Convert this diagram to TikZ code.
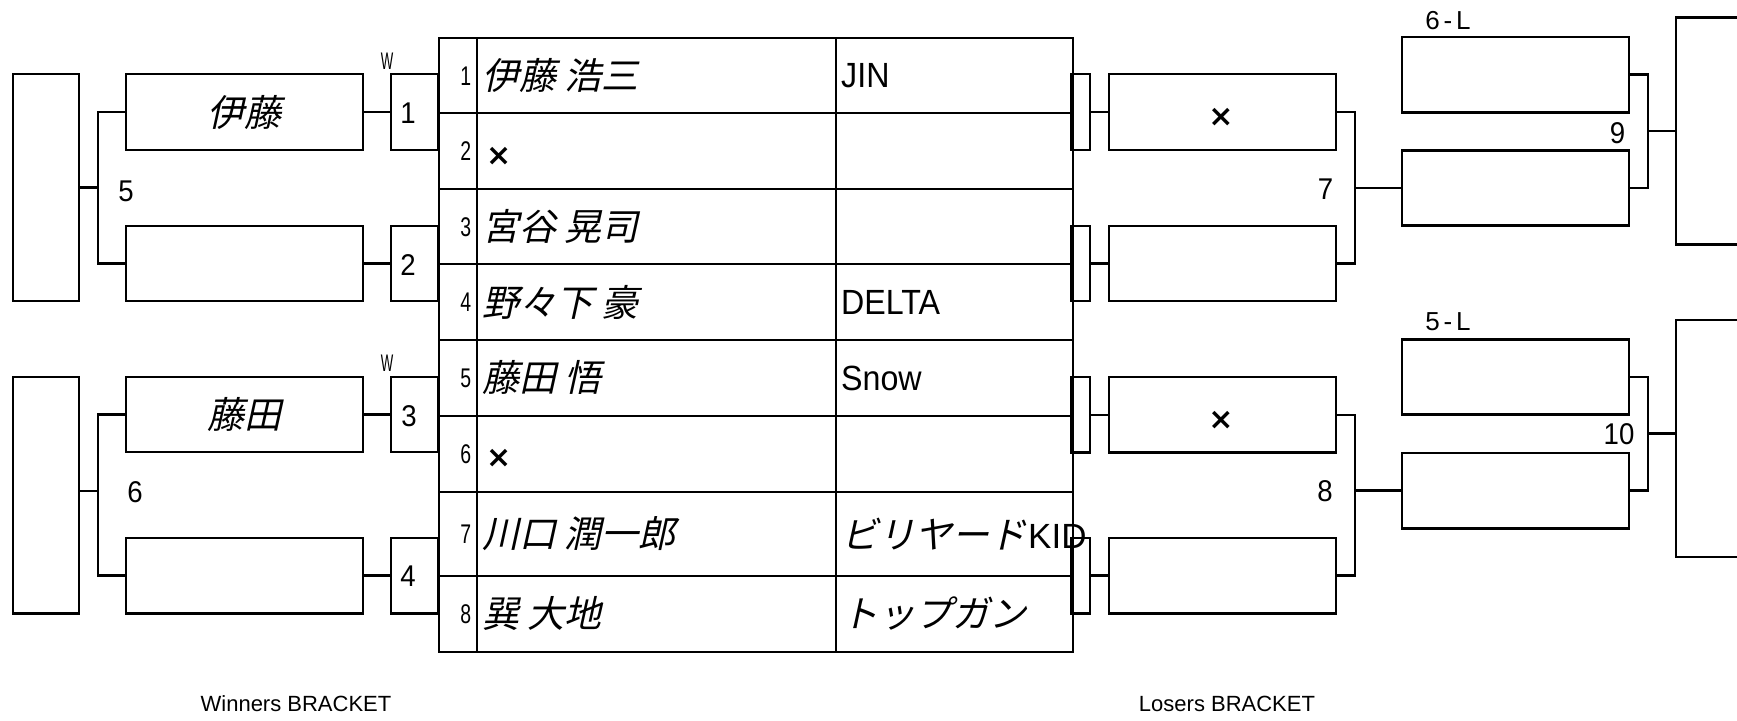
\documentclass[tikz,border=0pt]{standalone}
\usepackage{fontspec}
\setmainfont{Liberation Sans}
\newfontfamily\jpit[FakeSlant=0.22]{Noto Sans CJK JP}
\newfontfamily\latn[FakeStretch=0.92]{Liberation Sans}
\newfontfamily\narw[FakeStretch=0.72]{Liberation Sans}
\newfontfamily\wnarw[FakeStretch=0.55]{Liberation Sans}
\newfontfamily\symf{DejaVu Sans}
\newfontfamily\spcd[LetterSpace=15]{Liberation Sans}
\newcommand{\myfs}[1]{\fontsize{#1}{#1}\selectfont}
\begin{document}
\begin{tikzpicture}[x=1pt,y=-1pt,
  ln/.style={line width=2.4pt},
  bx/.style={draw, line width=2.4pt, inner sep=0pt},
  cell/.style={draw, line width=2.4pt, inner sep=0pt, anchor=north west},
  num/.style={font=\latn\myfs{30}, inner sep=0pt},
  nm/.style={font=\jpit\myfs{37}, inner sep=0pt, anchor=west, xshift=6pt},
  tmt/.style={inner sep=0pt, anchor=west, xshift=6pt},
  xm/.style={font=\symf\bfseries\myfs{30}, inner sep=0pt}]
\useasboundingbox (0,0) rectangle (1737,720);

% ---------- Winners bracket ----------
\node[bx, minimum width=66pt, minimum height=227pt] (LW1) at (46,187.5) {};
\node[bx, minimum width=66pt, minimum height=236.6pt] (LW2) at (46,495) {};

\node[bx, minimum width=237pt, minimum height=76pt] (WA) at (244.5,112) {\jpit\myfs{37}伊藤};
\node[bx, minimum width=237pt, minimum height=75.5pt] (WB) at (244.5,263.5) {};
\node[bx, minimum width=237pt, minimum height=75.5pt] (WC) at (244.5,414.5) {\jpit\myfs{37}藤田};
\node[bx, minimum width=237pt, minimum height=75.6pt] (WD) at (244.5,575.5) {};

\node[bx, minimum width=46.7pt, minimum height=76pt] (M1) at (414.35,112) {};
\node[bx, minimum width=46.7pt, minimum height=75.5pt] (M2) at (414.35,263.5) {};
\node[bx, minimum width=46.7pt, minimum height=75.5pt] (M3) at (414.35,414.5) {};
\node[bx, minimum width=46.7pt, minimum height=75.6pt] (M4) at (414.35,575.5) {};
\node[num] (m1t) at (408,113) {1};
\node[num] (m2t) at (408,265) {2};
\node[num] (m3t) at (409,416) {3};
\node[num] (m4t) at (408,576) {4};
\node[font=\wnarw\myfs{24}, inner sep=0pt] (w1) at (387,61) {W};
\node[font=\wnarw\myfs{24}, inner sep=0pt] (w2) at (387,363) {W};

\coordinate (j5) at (98,187.5);
\coordinate (j6) at (98,491);
\draw[ln] (WA.west) -| (j5) |- (WB.west);
\draw[ln] (j5) -- (j5 -| LW1.east);
\draw[ln] (WC.west) -| (j6) |- (WD.west);
\draw[ln] (j6) -- (j6 -| LW2.east);
\draw[ln] (WA.east) -- (M1.west);
\draw[ln] (WB.east) -- (M2.west);
\draw[ln] (WC.east) -- (M3.west);
\draw[ln] (WD.east) -- (M4.west);
\node[num] (l5) at (126,191) {5};
\node[num] (l6) at (135,492) {6};

% ---------- Table ----------
\foreach \i/\t/\h in {1/36.5/75.5, 2/112/75.5, 3/187.5/75.5, 4/263/76,
                      5/339/75.5, 6/414.5/76, 7/490.5/84.5, 8/575/75.5} {
  \node[cell, minimum width=38.3pt, minimum height=\h pt] (num\i) at (437.7,\t) {};
  \node[cell, minimum width=359pt, minimum height=\h pt] (nm\i) at (476,\t) {};
  \node[cell, minimum width=236.5pt, minimum height=\h pt] (tm\i) at (835,\t) {};
  \node[anchor=east, xshift=-7pt, yshift=-0.5pt, inner sep=0pt, font=\narw\myfs{27}] (nt\i) at (num\i.east) {\i};
}
\node[nm] (n1) at (nm1.west) {伊藤 浩三};
\node[xm, anchor=west, xshift=10pt, yshift=-5pt] (n2) at (nm2.west) {×};
\node[nm] (n3) at (nm3.west) {宮谷 晃司};
\node[nm] (n4) at (nm4.west) {野々下 豪};
\node[nm] (n5) at (nm5.west) {藤田 悟};
\node[xm, anchor=west, xshift=10pt, yshift=-5pt] (n6) at (nm6.west) {×};
\node[nm] (n7) at (nm7.west) {川口 潤一郎};
\node[nm] (n8) at (nm8.west) {巽 大地};

\node[tmt, font=\latn\myfs{35}] (t1) at (tm1.west) {JIN};
\node[tmt, font=\latn\myfs{35}] (t4) at (tm4.west) {DELTA};
\node[tmt, font=\latn\myfs{35}] (t5) at (tm5.west) {Snow};
\node[tmt] (t7) at (tm7.west) {{\jpit\myfs{37}ビリヤード}\kern2pt{\myfs{35}KID}};
\node[tmt, font=\jpit\myfs{37}] (t8) at (tm8.west) {トップガン};

% ---------- Losers bracket ----------
\node[bx, minimum width=18.5pt, minimum height=76pt] (R1) at (1080.75,112) {};
\node[bx, minimum width=18.5pt, minimum height=75.5pt] (R2) at (1080.75,263.5) {};
\node[bx, minimum width=18.5pt, minimum height=75.5pt] (R3) at (1080.75,414.75) {};
\node[bx, minimum width=18.5pt, minimum height=75.6pt] (R4) at (1080.75,575.5) {};

\node[bx, minimum width=227pt, minimum height=76pt] (LA) at (1222.5,112) {};
\node[bx, minimum width=227pt, minimum height=75.5pt] (LB) at (1222.5,263.5) {};
\node[bx, minimum width=227pt, minimum height=75.5pt] (LC) at (1222.5,414.75) {};
\node[bx, minimum width=227pt, minimum height=75.6pt] (LD) at (1222.5,575.5) {};
\node[xm] (xa) at (1221,117) {×};
\node[xm] (xc) at (1221,420) {×};

\draw[ln] (R1.east) -- (LA.west);
\draw[ln] (R2.east) -- (LB.west);
\draw[ln] (R3.east) -- (LC.west);
\draw[ln] (R4.east) -- (LD.west);

\node[bx, minimum width=227pt, minimum height=75.6pt] (LE) at (1515.5,74.5) {};
\node[bx, minimum width=227pt, minimum height=75pt] (LF) at (1515.5,188) {};
\node[bx, minimum width=227pt, minimum height=75pt] (LG) at (1515.5,376.8) {};
\node[bx, minimum width=227pt, minimum height=75.6pt] (LH) at (1515.5,490.5) {};

\coordinate (j7) at (1355,187.75);
\coordinate (j8) at (1355,490.5);
\coordinate (j9) at (1648,131.25);
\coordinate (j10) at (1648,433.65);

\draw[ln] (LA.east) -| (j7) |- (LB.east);
\draw[ln] (j7) -- (j7 -| LF.west);
\draw[ln] (LC.east) -| (j8) |- (LD.east);
\draw[ln] (j8) -- (j8 -| LH.west);

\node[bx, minimum width=150pt, minimum height=227pt] (RB1) at (1751,130.8) {};
\node[bx, minimum width=150pt, minimum height=236.7pt] (RB2) at (1751,438.35) {};
\draw[ln] (LE.east) -| (j9) |- (LF.east);
\draw[ln] (j9) -- (j9 -| RB1.west);
\draw[ln] (LG.east) -| (j10) |- (LH.east);
\draw[ln] (j10) -- (j10 -| RB2.west);

\node[num] (l7) at (1325.5,189) {7};
\node[num] (l8) at (1325,491) {8};
\node[num] (l9) at (1617.5,133) {9};
\node[num] (l10) at (1619,434) {10};
\node[font=\spcd\myfs{26}, inner sep=0pt] (l6L) at (1448,21) {6-L};
\node[font=\spcd\myfs{26}, inner sep=0pt] (l5L) at (1448,321.7) {5-L};

% ---------- Footer ----------
\node[font=\myfs{22}, inner sep=0pt] (wbr) at (296,704) {Winners BRACKET};
\node[font=\myfs{22}, inner sep=0pt] (lbr) at (1227,704) {Losers BRACKET};
\end{tikzpicture}
\end{document}
